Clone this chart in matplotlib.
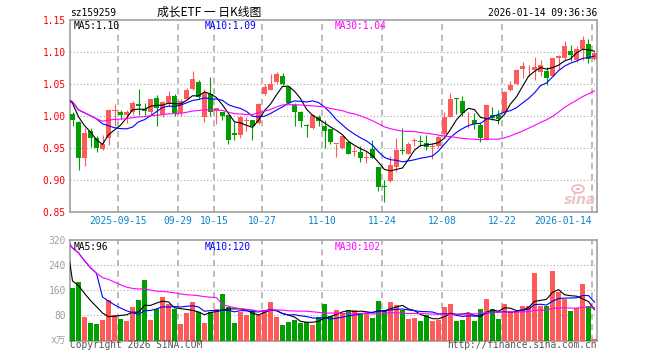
import numpy as np
import pandas as pd
import matplotlib
matplotlib.use('Agg')
import matplotlib.pyplot as plt
from matplotlib.patches import Ellipse, Circle

# ---------------- data ----------------
code = 'sz159259'
title = '成长ETF 一 日K线图'
timestamp = '2026-01-14 09:36:36'

open_ = [1.003, 0.991, 0.934, 0.976, 0.965, 0.948, 0.965, 1.008, 1.007, 1.002,
         1.007, 1.019, 1.011, 1.006, 1.028, 1.002, 1.020, 1.032, 1.004, 1.027,
         1.042, 1.053, 0.999, 1.034, 1.008, 1.007, 1.002, 0.973, 0.970, 0.992,
         0.993, 0.989, 1.035, 1.041, 1.053, 1.063, 1.046, 1.017, 1.007, 0.986,
         0.981, 0.999, 0.985, 0.979, 0.956, 0.950, 0.960, 0.944, 0.944, 0.934,
         0.949, 0.920, 0.891, 0.898, 0.920, 0.947, 0.941, 0.961, 0.961, 0.958,
         0.952, 0.953, 0.972, 0.999, 1.028, 1.024, 1.004, 0.994, 0.986, 0.963,
         1.002, 1.002, 1.006, 1.040, 1.050, 1.073, 1.073, 1.072, 1.068, 1.071,
         1.063, 1.090, 1.091, 1.102, 1.088, 1.105, 1.113, 1.089]
high = [1.007, 0.992, 0.981, 0.981, 0.968, 0.970, 1.011, 1.019, 1.009, 1.010,
        1.024, 1.042, 1.020, 1.026, 1.033, 1.024, 1.039, 1.035, 1.026, 1.044,
        1.071, 1.056, 1.042, 1.061, 1.013, 1.007, 1.002, 0.991, 1.000, 0.999,
        0.993, 1.021, 1.050, 1.066, 1.068, 1.067, 1.047, 1.020, 1.008, 0.987,
        1.003, 1.002, 0.993, 0.979, 0.957, 0.969, 0.961, 0.953, 0.953, 0.945,
        0.963, 0.921, 0.900, 0.937, 0.966, 0.981, 0.960, 0.966, 0.970, 0.971,
        0.958, 0.970, 1.006, 1.036, 1.028, 1.031, 1.006, 1.005, 0.989, 1.018,
        1.014, 1.010, 1.039, 1.054, 1.073, 1.084, 1.079, 1.092, 1.088, 1.077,
        1.090, 1.096, 1.117, 1.111, 1.109, 1.125, 1.120, 1.099]
low = [0.984, 0.915, 0.922, 0.951, 0.944, 0.947, 0.955, 0.984, 0.996, 0.989,
       1.002, 1.002, 1.002, 1.002, 0.984, 0.999, 1.015, 1.000, 1.000, 1.025,
       1.040, 1.026, 0.990, 1.000, 0.987, 0.994, 0.957, 0.963, 0.965, 0.977,
       0.963, 0.988, 1.033, 1.040, 1.052, 1.049, 1.020, 0.985, 0.983, 0.967,
       0.980, 0.985, 0.950, 0.956, 0.936, 0.949, 0.940, 0.937, 0.928, 0.926,
       0.934, 0.883, 0.866, 0.897, 0.912, 0.941, 0.940, 0.953, 0.953, 0.947,
       0.933, 0.950, 0.967, 0.998, 1.003, 1.000, 0.982, 0.979, 0.960, 0.962,
       0.994, 0.988, 1.005, 1.039, 1.049, 1.060, 1.062, 1.057, 1.062, 1.049,
       1.062, 1.073, 1.088, 1.086, 1.084, 1.088, 1.083, 1.087]
close = [0.993, 0.934, 0.973, 0.965, 0.950, 0.956, 1.010, 1.010, 1.002, 1.006,
         1.020, 1.016, 1.008, 1.026, 1.013, 1.022, 1.031, 1.005, 1.023, 1.041,
         1.058, 1.030, 1.036, 1.007, 1.013, 1.000, 0.963, 0.971, 0.999, 0.994,
         0.984, 1.019, 1.046, 1.050, 1.066, 1.050, 1.021, 1.007, 0.992, 0.984,
         1.002, 0.992, 0.976, 0.960, 0.957, 0.968, 0.941, 0.945, 0.934, 0.936,
         0.934, 0.889, 0.889, 0.924, 0.947, 0.945, 0.956, 0.962, 0.959, 0.951,
         0.953, 0.967, 0.998, 1.027, 1.026, 1.004, 1.005, 0.988, 0.966, 1.017,
         0.997, 0.995, 1.037, 1.049, 1.072, 1.078, 1.074, 1.076, 1.079, 1.059,
         1.090, 1.093, 1.109, 1.096, 1.105, 1.118, 1.089, 1.098]
volume = [168, 186, 76, 56, 53, 66, 129, 82, 69, 63,
          107, 129, 193, 66, 101, 137, 116, 101, 53, 88,
          123, 90, 56, 90, 101, 148, 108, 56, 91, 82,
          96, 82, 98, 123, 75, 50, 59, 66, 56, 59,
          50, 75, 117, 78, 98, 87, 98, 98, 87, 87,
          73, 126, 98, 124, 113, 98, 69, 73, 63, 80,
          63, 66, 108, 117, 63, 66, 87, 63, 101, 133,
          101, 69, 117, 94, 94, 110, 110, 215, 110, 110,
          222, 154, 133, 94, 103, 180, 110, 5]
# sessions before the first visible candle (only feed the moving averages)
pre_close = [1.033, 1.040, 1.042, 1.015, 1.010]
pre_volume = [820, 260, 200, 170, 150]

tick_pos = [8, 18, 24, 32, 42, 52, 62, 72, 87]
tick_labels = ['2025-09-15', '09-29', '10-15', '10-27', '11-10',
               '11-24', '12-08', '12-22', '2026-01-14']
price_ticks = [0.85, 0.90, 0.95, 1.00, 1.05, 1.10, 1.15]
vol_ticks = [80, 160, 240, 320]
ma_windows = [5, 10, 30]
ma_labels = ['MA5:1.10', 'MA10:1.09', 'MA30:1.04']
vol_ma_labels = ['MA5:96', 'MA10:120', 'MA30:102']

# ---------------- style ----------------
RED = '#ff5a5a'
GREEN = '#009f00'
MA_COLORS = ['#000000', '#0000ff', '#ff00ff']
GRID = '#a8a8a8'
FRAME = '#a0a0a0'
MONO = 'DejaVu Sans Mono'
FS = 6.9

W, H = 660, 360
fig = plt.figure(figsize=(W / 100, H / 100), dpi=100)
fig.patch.set_facecolor('white')


def fx(px):
    return px / W


def fy(py):
    return 1 - py / H


L_PX, R_PX = 70, 597
ax1 = fig.add_axes([fx(L_PX), fy(212), (R_PX - L_PX) / W, (212 - 20) / H])
ax2 = fig.add_axes([fx(L_PX), fy(340.5), (R_PX - L_PX) / W, (340.5 - 240) / H])

n = len(close)
x = np.arange(n)
O = np.array(open_); Hh = np.array(high); Lw = np.array(low); C = np.array(close)
V = np.array(volume)
up = C >= O
cols = np.where(up, RED, GREEN)
half = 2.5 / 6.0
xlim = (-half, n - 1 + half)

# ---- price panel ----
ax1.vlines(x, Lw, Hh, colors=cols, linewidth=0.8, zorder=3)
body_b = np.minimum(O, C)
body_h = np.maximum(np.abs(C - O), 0.0011)
ax1.bar(x, body_h, bottom=body_b, width=0.8, color=cols, linewidth=0, zorder=4)

full_close = pd.Series(pre_close + close)
xs = np.arange(-len(pre_close), n)
for w, c in zip(ma_windows, MA_COLORS):
    ma = full_close.rolling(w, min_periods=1).mean().values
    ax1.plot(xs, ma, color=c, linewidth=0.8, zorder=5)

ax1.set_xlim(*xlim)
ax1.set_ylim(0.85, 1.15)
ax1.set_yticks(price_ticks)
ax1.set_yticklabels(['%.2f' % t for t in price_ticks])
for t in price_ticks[1:-1]:
    ax1.axhline(t, color=GRID, linestyle=(0, (1, 2)), linewidth=0.8, zorder=1)

# ---- volume panel ----
ax2.bar(x, V, width=0.83, color=cols, linewidth=0, zorder=3)
full_vol = pd.Series(pre_volume + volume, dtype=float)
for w, c in zip(ma_windows, MA_COLORS):
    ma = full_vol.rolling(w, min_periods=1).mean().values
    ax2.plot(xs, ma, color=c, linewidth=0.8, zorder=5)
ax2.set_xlim(*xlim)
ax2.set_ylim(0, 320)
ax2.set_yticks(vol_ticks)
ax2.set_yticklabels([str(t) for t in vol_ticks])
for t in vol_ticks[:-1]:
    ax2.axhline(t, color=GRID, linestyle=(0, (1, 2)), linewidth=0.8, zorder=1)

for ax in (ax1, ax2):
    for p in tick_pos:
        ax.axvline(p - half, color=GRID, linestyle=(0, (4, 3)), linewidth=1.1, zorder=2)
    for s in ax.spines.values():
        s.set_color(FRAME)
        s.set_linewidth(1.2)
    ax.set_xticks([])
    ax.tick_params(axis='y', length=0, pad=3)
    ax.set_facecolor('white')

for lbl in ax1.get_yticklabels():
    lbl.set_color('#ff0000'); lbl.set_fontsize(FS); lbl.set_family(MONO)
for lbl in ax2.get_yticklabels():
    lbl.set_color('#a0a0a0'); lbl.set_fontsize(FS); lbl.set_family(MONO)

# x date labels under price panel
for p, lab in zip(tick_pos, tick_labels):
    ha = 'right' if p == tick_pos[-1] else 'center'
    ax1.text(p - half, -0.047, lab, transform=ax1.get_xaxis_transform(),
             ha=ha, va='center', fontsize=FS, family=MONO, color='#0a84c8')

# ---- header and labels ----
fig.text(fx(70), fy(12.5), code, ha='left', va='center', fontsize=FS, family=MONO, color='black')
fig.text(fx(209), fy(12.5), title, ha='center', va='center', fontsize=8.5,
         family=['Noto Sans CJK SC', 'DejaVu Sans'], color='black')
fig.text(fx(597), fy(12.5), timestamp, ha='right', va='center', fontsize=FS, family=MONO, color='black')

lab_x = [74, 205, 335]
for xx, t, c in zip(lab_x, ma_labels, MA_COLORS):
    fig.text(fx(xx), fy(26), t, ha='left', va='center', fontsize=FS, family=MONO, color=c)
for xx, t, c in zip(lab_x, vol_ma_labels, MA_COLORS):
    fig.text(fx(xx), fy(246.5), t, ha='left', va='center', fontsize=FS, family=MONO, color=c)

fig.text(fx(66), fy(340), 'x万', ha='right', va='center', fontsize=FS,
         family=[MONO, 'Noto Sans CJK SC'], color='#a0a0a0')
fig.text(fx(70), fy(345.5), 'Copyright 2026 SINA.COM', ha='left', va='center',
         fontsize=FS, family=MONO, color='#555555')
fig.text(fx(597), fy(345.5), 'http://finance.sina.com.cn', ha='right', va='center',
         fontsize=FS, family=MONO, color='#555555')

# sina watermark
fig.patches.append(Ellipse((fx(578), fy(189)), 12 / W, 8 / H, transform=fig.transFigure,
                           facecolor='none', edgecolor='#f2b8b8', linewidth=1.2))
fig.patches.append(Circle((fx(578), fy(189)), 2.2 / W, transform=fig.transFigure,
                          facecolor='#f2b8b8', edgecolor='none'))
fig.text(fx(580), fy(200), 'sina', ha='center', va='center', fontsize=10,
         fontweight='bold', style='italic', family='DejaVu Sans', color='#e8c4c4')

fig.savefig('out.png', dpi=100, facecolor='white')
